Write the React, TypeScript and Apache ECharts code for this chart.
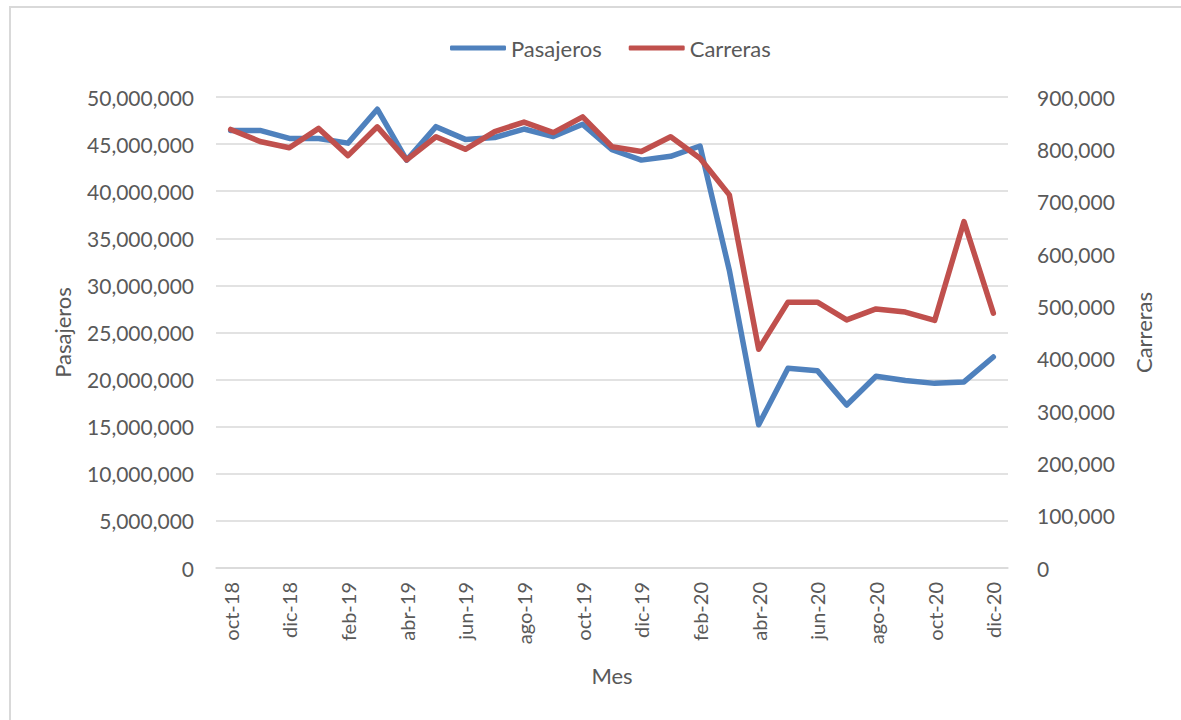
import React, { useEffect, useRef } from "react";
import * as echarts from "echarts";

const months = [
  "oct-18", "nov-18", "dic-18", "ene-19", "feb-19", "mar-19", "abr-19", "may-19", "jun-19",
  "jul-19", "ago-19", "sep-19", "oct-19", "nov-19", "dic-19", "ene-20", "feb-20", "mar-20",
  "abr-20", "may-20", "jun-20", "jul-20", "ago-20", "sep-20", "oct-20", "nov-20", "dic-20",
];

const pasajeros = [
  46450000, 46450000, 45600000, 45600000, 45100000, 48700000, 43300000, 46850000, 45500000,
  45700000, 46600000, 45800000, 47100000, 44400000, 43300000, 43700000, 44800000, 31600000,
  15200000, 21200000, 20950000, 17300000, 20350000, 19900000, 19600000, 19750000, 22400000,
];

const carreras = [
  838000, 815000, 803000, 840000, 788000, 843000, 780000, 824000, 800000,
  834000, 852000, 832000, 862000, 805000, 796000, 824000, 783000, 713000,
  418000, 508000, 508000, 474000, 495000, 489000, 473000, 662000, 487000,
];

const leftTicks = { min: 0, max: 50000000, interval: 5000000 };
const rightTicks = { min: 0, max: 900000, interval: 100000 };

const FONT = "Lato";
const TXT = "#595959";
const GRID = "#d9d9d9";

export default function App() {
  const ref = useRef<HTMLDivElement>(null);
  useEffect(() => {
    document.body.style.margin = "0";
    const chart = echarts.init(ref.current!, null, { renderer: "svg" });
    const fmt = (v: number) => v.toLocaleString("en-US");
    chart.setOption({
      animation: false,
      textStyle: { fontFamily: FONT },
      graphic: [
        {
          type: "rect",
          z: -10,
          shape: { x: 10, y: 7, width: 1300, height: 900 },
          style: { fill: "none", stroke: GRID, lineWidth: 2 },
        },
      ],
      legend: {
        top: 32,
        left: 445,
        itemWidth: 56,
        itemHeight: 5,
        itemGap: 27,
        icon: "roundRect",
        textStyle: { fontFamily: FONT, fontSize: 22, color: TXT },
        data: ["Pasajeros", "Carreras"],
      },
      grid: { left: 216, right: 173, top: 97, bottom: 152, containLabel: false },
      xAxis: {
        type: "category",
        data: months,
        boundaryGap: true,
        name: "Mes",
        nameLocation: "middle",
        nameGap: 96,
        nameTextStyle: { fontFamily: FONT, fontSize: 22, color: TXT },
        axisLine: { lineStyle: { color: GRID, width: 1.5 } },
        axisTick: { interval: 1, alignWithLabel: false, length: 6, lineStyle: { color: GRID } },
        axisLabel: {
          interval: 1,
          rotate: 90,
          margin: 14,
          fontFamily: FONT,
          fontSize: 20,
          color: TXT,
        },
      },
      yAxis: [
        {
          type: "value",
          ...leftTicks,
          name: "Pasajeros",
          nameLocation: "middle",
          nameGap: 143,
          nameRotate: 90,
          nameTextStyle: { fontFamily: FONT, fontSize: 22, color: TXT },
          axisLine: { show: false },
          axisTick: { show: false },
          splitLine: { lineStyle: { color: GRID, width: 1.5 } },
          axisLabel: { margin: 22, fontFamily: FONT, fontSize: 21, color: TXT, formatter: fmt },
        },
        {
          type: "value",
          ...rightTicks,
          name: "Carreras",
          nameLocation: "middle",
          nameGap: 124,
          nameRotate: 90,
          nameTextStyle: { fontFamily: FONT, fontSize: 22, color: TXT },
          axisLine: { show: false },
          axisTick: { show: false },
          splitLine: { show: false },
          axisLabel: { margin: 29, fontFamily: FONT, fontSize: 21, color: TXT, formatter: fmt },
        },
      ],
      series: [
        {
          name: "Pasajeros",
          type: "line",
          yAxisIndex: 0,
          data: pasajeros,
          showSymbol: false,
          symbol: "none",
          color: "#4f81bd",
          lineStyle: { width: 5.5, color: "#4f81bd", cap: "round", join: "round" },
        },
        {
          name: "Carreras",
          type: "line",
          yAxisIndex: 1,
          data: carreras,
          showSymbol: false,
          symbol: "none",
          color: "#c0504d",
          lineStyle: { width: 5.5, color: "#c0504d", cap: "round", join: "round" },
        },
      ],
    });
    return () => chart.dispose();
  }, []);
  return <div ref={ref} style={{ width: 1181, height: 720 }} />;
}
